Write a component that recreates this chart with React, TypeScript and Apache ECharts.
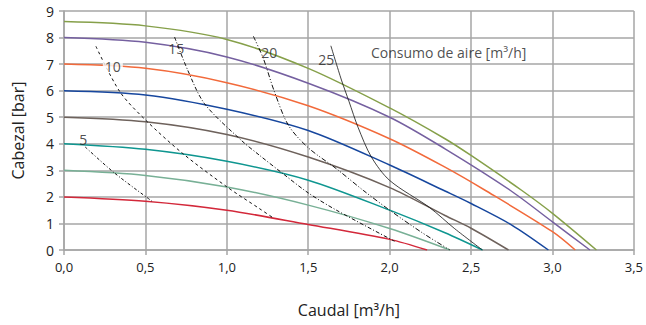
import React, { useEffect, useRef } from "react";
import * as echarts from "echarts";

// Pump curves: [caudal m3/h, cabezal bar]
const curve86 = [[0, 8.6], [0.5, 8.44], [1.0, 7.93], [1.5, 6.84], [2.0, 5.35], [2.34, 4.19], [2.5, 3.56], [2.81, 2.25], [3.0, 1.38], [3.27, 0]];
const curve80 = [[0, 8.0], [0.5, 7.82], [1.0, 7.27], [1.5, 6.28], [2.0, 5.0], [2.34, 3.81], [2.74, 2.25], [3.0, 1.06], [3.23, 0]];
const curve70 = [[0, 7.0], [0.5, 6.84], [1.0, 6.3], [1.5, 5.43], [2.0, 4.19], [2.34, 3.12], [2.586, 2.25], [3.0, 0.69], [3.14, 0]];
const curve60 = [[0, 6.0], [0.5, 5.84], [1.0, 5.3], [1.5, 4.5], [2.0, 3.2], [2.34, 2.22], [2.5, 1.75], [2.75, 0.94], [2.975, 0]];
const curve50 = [[0, 5.0], [0.5, 4.83], [1.0, 4.35], [1.5, 3.5], [2.0, 2.35], [2.34, 1.3], [2.5, 0.82], [2.73, 0]];
const curve40 = [[0, 4.0], [0.5, 3.79], [1.0, 3.34], [1.5, 2.63], [2.0, 1.5], [2.34, 0.65], [2.57, 0]];
const curve30 = [[0, 3.0], [0.5, 2.81], [1.0, 2.375], [1.5, 1.69], [2.0, 0.81], [2.37, 0]];
const curve20 = [[0, 2.0], [0.5, 1.84], [1.0, 1.5], [1.5, 0.96], [2.0, 0.4], [2.23, 0]];

// Air consumption curves
const air5 = [[0.13, 3.88], [0.31, 2.9], [0.54, 1.84]];
const air10 = [[0.196, 7.67], [0.343, 5.96], [0.5, 4.9], [0.73, 3.63], [1.0, 2.38], [1.2, 1.56], [1.28, 1.23]];
const air15 = [[0.679, 8.02], [0.76, 6.77], [0.863, 5.51], [1.087, 4.14], [1.2, 3.57], [1.35, 2.85], [1.5, 2.15], [1.673, 1.5], [2.03, 0.33]];
const air20 = [[1.163, 8.05], [1.225, 7.2], [1.29, 6.0], [1.378, 4.7], [1.5, 3.85], [1.673, 3.06], [1.837, 2.25], [2.0, 1.5], [2.2, 0.65], [2.37, 0]];
const air25 = [[1.639, 7.69], [1.704, 6.4], [1.75, 5.6], [1.806, 4.62], [1.888, 3.5], [2.0, 2.62], [2.245, 1.6], [2.4, 0.8], [2.57, 0]];

// Labels: [x, y, text]
const airLabels: [number, number, string][] = [
  [0.118, 4.17, "5"],
  [0.3, 6.92, "10"],
  [0.69, 7.58, "15"],
  [1.26, 7.45, "20"],
  [1.61, 7.17, "25"],
];
const noteLabel: [number, number, string] = [1.885, 7.45, "Consumo de aire [m³/h]"];

const pumpColors = ["#86a04a", "#7560a0", "#f26a3b", "#17479e", "#6e625c", "#0f9690", "#78b096", "#d3283a"];
const pumpCurves = [curve86, curve80, curve70, curve60, curve50, curve40, curve30, curve20];
const airCurves = [air5, air10, air15, air20, air25];
const airTypes: any[] = [[3, 2, 1, 2], [3, 3], [4, 2, 1, 2], [5, 2, 1, 2, 1, 2], "solid"];

const FONT = "'Open Sans', 'Noto Sans', sans-serif";

export default function App() {
  const ref = useRef<HTMLDivElement>(null);
  useEffect(() => {
    if (!ref.current) return;
    const chart = echarts.init(ref.current, undefined, { renderer: "svg" });
    const series: any[] = [];
    pumpCurves.forEach((c, i) => {
      series.push({
        type: "line",
        data: c,
        smooth: 0.3,
        symbol: "none",
        lineStyle: { color: pumpColors[i], width: 1.5 },
        z: 2,
      });
    });
    airCurves.forEach((c, i) => {
      series.push({
        type: "line",
        data: c,
        smooth: 0.3,
        symbol: "none",
        lineStyle: { color: "#111", width: i === 4 ? 0.8 : 1, type: airTypes[i] },
        z: 3,
      });
    });
    series.push({
      type: "scatter",
      symbolSize: 0,
      z: 5,
      data: airLabels.map((l) => ({
        value: l,
        label: l[2] === "10" ? { backgroundColor: "#fff", padding: [0, 2] } : {},
      })),
      label: {
        show: true,
        position: "inside",
        formatter: (p: any) => p.value[2],
        color: "#222",
        fontSize: 14,
        fontFamily: FONT,
      },
    });
    series.push({
      type: "scatter",
      symbolSize: 0,
      z: 5,
      data: [noteLabel],
      label: {
        show: true,
        position: "right",
        distance: 0,
        formatter: (p: any) => p.value[2],
        color: "#222",
        fontSize: 14,
        fontFamily: FONT,
      },
    });
    chart.setOption({
      animation: false,
      grid: { left: 64, right: 11, top: 11, bottom: 75, containLabel: false },
      xAxis: {
        type: "value",
        min: 0,
        max: 3.5,
        interval: 0.5,
        name: "Caudal [m³/h]",
        nameLocation: "middle",
        nameGap: 52,
        nameTextStyle: { fontSize: 16, color: "#222", fontFamily: FONT },
        axisLine: { show: true, lineStyle: { color: "#a6a6a6", width: 1.5 } },
        axisTick: { show: true, length: 5, lineStyle: { color: "#a6a6a6", width: 1.5 } },
        axisLabel: {
          fontSize: 13,
          color: "#222",
          fontFamily: FONT,
          margin: 10,
          formatter: (v: number) => v.toFixed(1).replace(".", ","),
        },
        splitLine: { show: true, lineStyle: { color: "#a6a6a6", width: 1.5 } },
      },
      yAxis: {
        type: "value",
        min: 0,
        max: 9,
        interval: 1,
        name: "Cabezal [bar]",
        nameLocation: "middle",
        nameGap: 38,
        nameTextStyle: { fontSize: 16, color: "#222", fontFamily: FONT },
        axisLine: { show: true, lineStyle: { color: "#a6a6a6", width: 1.5 } },
        axisTick: { show: true, length: 5, lineStyle: { color: "#a6a6a6", width: 1.5 } },
        axisLabel: { fontSize: 14, color: "#222", fontFamily: FONT, margin: 10 },
        splitLine: { show: true, lineStyle: { color: "#a6a6a6", width: 1.5 } },
      },
      series,
    });
    return () => chart.dispose();
  }, []);
  return <div ref={ref} style={{ width: 646, height: 325, position: "absolute", left: 0, top: 0 }} />;
}
